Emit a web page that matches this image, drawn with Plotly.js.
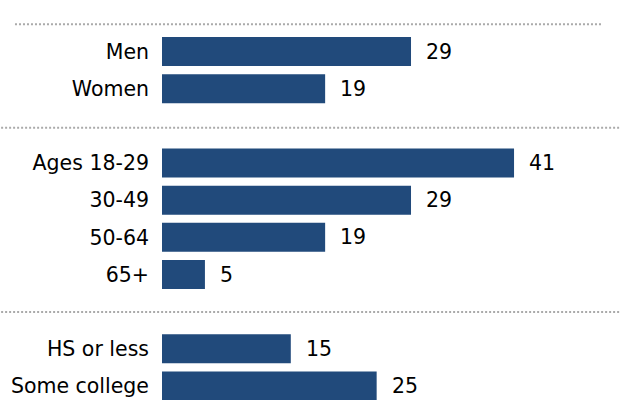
<!DOCTYPE html>
<html>
<head>
<meta charset="utf-8">
<script src="https://cdn.plot.ly/plotly-3.0.1.min.js"></script>
<style>html,body{margin:0;padding:0;background:#fff;}#chart{width:620px;height:400px;}</style>
</head>
<body>
<div id="chart"></div>
<script>
// Category order top to bottom; blank entries are spacer rows between groups
const categoryOrder = ["Men", "Women", " ", "Ages 18-29", "30-49", "50-64", "65+", "  ", "HS or less", "Some college"];
const categories = ["Men", "Women", "Ages 18-29", "30-49", "50-64", "65+", "HS or less", "Some college"];
const values = [29, 19, 41, 29, 19, 5, 15, 25];

const barColor = "#214a7b";
const fontFamily = "DejaVu Sans, Liberation Sans, Arial, sans-serif";

const trace = {
  type: "bar",
  orientation: "h",
  x: values,
  y: categories,
  marker: {color: barColor, line: {width: 0}},
  hoverinfo: "skip"
};

const annotations = categories.map((c, i) => ({
  x: values[i], y: c, xref: "x", yref: "y",
  text: String(values[i]),
  showarrow: false, xanchor: "left", yanchor: "middle",
  xshift: 13,
  font: {family: fontFamily, size: 20.5, color: "#000"}
}));

const sepStyle = {color: "#aaaaaa", width: 2, dash: "2px,2px"};
const shapes = [
  {type: "line", xref: "paper", yref: "y", x0: -0.321, x1: 0.9607, y0: -0.732, y1: -0.732, line: sepStyle},
  {type: "line", xref: "paper", yref: "y", x0: -0.36, x1: 1.01, y0: 2.05, y1: 2.05, line: sepStyle},
  {type: "line", xref: "paper", yref: "y", x0: -0.36, x1: 1.01, y0: 7.01, y1: 7.01, line: sepStyle}
];

const layout = {
  width: 620, height: 400,
  margin: {l: 162, r: 0, t: 0, b: 0, pad: 0},
  paper_bgcolor: "#fff", plot_bgcolor: "#fff",
  showlegend: false,
  bargap: 0.22,
  xaxis: {range: [0, 53.34], visible: false, fixedrange: true},
  yaxis: {
    type: "category",
    categoryorder: "array",
    categoryarray: categoryOrder,
    range: [9.376, -1.386],
    showgrid: false, zeroline: false, showline: false,
    ticks: "", ticklabelstandoff: 12,
    tickfont: {family: fontFamily, size: 20.5, color: "#000"},
    fixedrange: true
  },
  annotations: annotations,
  shapes: shapes
};

Plotly.newPlot("chart", [trace], layout, {displayModeBar: false, staticPlot: true});
</script>
</body>
</html>
